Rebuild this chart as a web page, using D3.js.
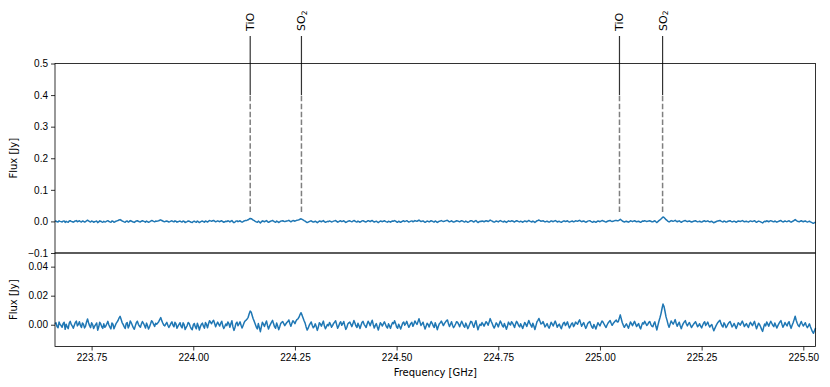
<!DOCTYPE html>
<html lang="en">
<head>
<meta charset="UTF-8">
<title>Spectrum</title>
<script src="https://d3js.org/d3.v7.min.js"></script>
<style>
  body { margin: 0; background: #fff; }
  svg { display: block; font-family: "DejaVu Sans", sans-serif; }
  .tick text { font-size: 10px; fill: #000; }
  .tick line { stroke: #000; stroke-width: 0.8; }
  .domain { display: none; }
</style>
</head>
<body>
<svg id="canvas"></svg>
<script>
// channel grid of the spectrum (GHz)
const freqStart = 223.66
const freqStep = 0.0025

// flux per channel (mJy)
const fluxMJy = [
  0.5, 1.3, -1.2, -2.1, 1.8, 0.2, -0.6, -1.8, 0.9, 1.6, -3.2, 0.4, -1.5, -2.7, 1.1, 2.3, 0.2, -0.9, -2.4, -0.3, 1.6, 2.5, -0.8, 0.3, 2.1, -0.5, -1.9, 1.2, 0.4, -2.2, -1.1, 1.9, 3.9, 1.4, -0.7, -2.0, 1.3, 0.1, -2.6, -1.0, 0.1, 1.2, -3.8, -1.6, 1.7, 0.5, -1.4, -2.5, 0.6, -1.8,
  -0.9, 0.7, 2.3, -0.2, -1.6, -2.9, 1.2, 0.3, -2.8, -1.1, 0.7, 1.8, 2.9, 4.6, 5.8, 3.7, 1.5, 0.2, -1.3, -2.6, 0.8, 1.5, -2.2, -0.6, 2.6, 1.3, -0.4, -2.0, -3.1, -0.8, 1.4, 2.4, 0.3, -0.9, -1.7, 0.6, 2.2, 1.0, -0.5, -2.3, 1.1, -0.7, -2.9, -1.4, 0.6, 2.8, 1.9, 0.2, -1.2, 1.0,
  0.4, 1.2, 2.1, 3.6, 4.9, 2.8, 1.2, -0.3, -0.8, 0.6, 1.6, -0.4, -1.9, -0.7, 0.9, 2.0, -0.3, -1.4, 1.7, 0.5, -2.4, -1.0, 0.2, 1.4, -1.1, -2.2, 1.3, 0.1, -3.3, -1.8, -0.6, 1.5, 0.8, -1.2, -2.7, -3.4, -0.2, 0.9, -1.5, -2.8, 1.0, -0.9, -3.6, -1.3, 0.3, 1.1, -1.0, -2.4, 1.5, 0.2,
  -2.1, 0.6, 2.8, 1.7, 0.7, 2.2, 3.1, 0.9, -1.4, 0.3, 1.8, 0.4, -0.9, 1.1, 2.4, -0.8, -2.6, -1.2, 0.5, -0.6, 1.9, 0.8, -1.8, 0.7, 2.7, -1.5, -3.9, -1.9, 0.9, 1.8, -0.7, 0.6, 2.0, -0.4, -2.3, -0.5, 1.4, 2.6, 3.2, 4.0, 5.1, 7.6, 9.4, 8.6, 6.2, 3.9, 2.3, 0.3, -1.6, -2.9,
  0.8, -2.0, -4.8, -1.3, 1.7, 0.4, -1.2, 0.9, 2.6, -0.5, -2.9, -1.0, 0.4, 1.8, 3.0, 0.6, -1.5, -2.4, 1.2, -0.8, -3.4, -1.5, 0.9, 1.6, 2.2, 0.7, -0.6, 0.5, 1.5, 2.2, 3.3, 0.8, -1.1, 1.0, 2.8, 1.9, 0.7, 2.5, 3.6, 4.1, 5.2, 7.0, 8.3, 6.6, 4.6, 2.7, 1.1, -1.5, -3.7, -2.4,
  -0.5, 0.8, 1.9, -0.3, -2.1, -1.2, 0.6, -1.4, -3.9, -1.7, 1.4, 0.5, -1.0, 0.8, 2.5, -0.9, -2.8, -1.3, 0.2, -0.7, 1.6, 0.3, -1.7, -0.6, 0.9, 1.8, 2.7, 0.1, -2.4, -1.0, 1.1, 2.0, -0.4, 0.7, 2.2, -0.6, -3.2, -1.9, 0.5, 1.3, 1.8, 0.2, -1.3, 0.6, 2.9, 1.2, -0.8, -1.9, 1.0, -0.7,
  -2.6, -0.4, 1.7, 2.3, 0.3, -0.8, -1.9, 0.5, 2.4, 1.1, -0.7, 1.4, 3.1, 0.2, -2.2, -0.6, 0.8, -1.5, -3.6, -1.1, 1.3, 0.4, -0.9, 0.7, 2.0, 0.3, -1.4, -2.3, 0.6, -0.8, -2.5, -0.2, 1.5, 0.7, 2.8, 0.9, -1.6, -2.4, 0.4, -1.2, -3.0, -0.9, 1.2, 1.9, -0.3, 0.8, 2.3, 0.1, -1.8, -0.5,
  0.9, 1.6, -1.1, 0.4, 2.6, 1.3, 0.2, 2.1, 4.1, 1.8, -0.5, 0.6, 1.7, -0.8, -2.9, -1.0, 1.0, 0.2, -1.6, 0.5, 2.2, 1.0, -0.8, -1.9, 1.4, -0.7, -3.4, -1.3, 0.7, 1.4, 2.5, 0.9, -0.6, 0.8, 1.8, 2.7, 3.3, 0.6, -1.2, 0.3, 2.0, -0.4, -2.0, -0.9, 0.5, 2.1, 1.6, 0.3, -1.4, 0.6,
  2.4, 0.8, -0.9, -1.7, 1.1, -0.5, -2.7, -1.3, 0.6, 2.3, 1.9, -0.2, -1.8, 0.9, 2.8, -0.6, -3.5, -1.2, 0.3, -0.5, 1.5, 0.4, -1.0, 0.6, 2.1, 1.2, -0.4, 1.8, 4.2, 2.4, 0.8, -1.0, -2.3, -0.6, 1.3, 0.2, -1.5, 0.7, 2.6, 1.1, -0.7, -1.6, 0.9, -1.0, -3.1, -0.9, 1.8, 0.5, -0.2, 2.0,
  1.2, -0.3, -1.9, 0.6, 2.3, 1.2, -0.6, -1.5, 0.7, -0.9, -2.6, -0.5, 1.6, 0.4, -1.2, 0.8, 2.9, 1.1, -0.3, -1.7, 1.0, -0.9, -3.3, -0.8, 1.9, 3.0, 4.3, 2.4, 0.5, 1.0, 2.2, 0.4, -1.5, -0.4, 0.8, -1.1, -2.4, -0.6, 1.7, 0.5, -0.9, 0.9, 2.5, 0.6, -1.7, -0.4, 0.4, -1.3, -2.8, -0.6,
  1.1, 1.7, -0.6, 0.5, 2.0, -0.4, -2.2, -0.8, 0.7, 1.2, -1.3, -0.2, 1.8, 1.0, 0.3, 2.2, 3.4, 1.1, -1.0, 0.4, 1.5, -0.6, -2.5, -1.1, 0.9, 1.7, 2.2, 0.1, -1.6, -2.4, 0.2, -1.2, -3.0, -0.7, 1.4, 0.3, -0.8, 1.0, 2.6, 1.8, 0.5, -0.8, -1.9, -0.2, 1.2, 2.1, 2.9, 1.0, -0.4, 0.8,
  1.7, 2.6, 3.2, 1.9, 2.1, 4.4, 6.8, 3.9, 1.4, -0.4, -1.8, -0.5, 0.6, -0.9, -2.4, -0.3, 1.9, 0.8, -0.7, 0.9, 2.3, 0.6, -1.2, -0.2, 0.8, -1.5, -2.9, -0.6, 1.3, 0.5, 2.4, 1.0, -0.5, 0.2, 1.6, 2.2, 0.3, -0.9, -1.4, 0.7, 2.0, -1.1, -3.6, -0.5, 2.4, 4.8, 7.5, 11.0, 14.2, 12.6,
  9.1, 5.4, 3.0, 0.2, -1.8, 0.4, 2.6, 1.5, 0.4, 1.9, 3.5, 0.8, -1.1, 0.6, 1.7, -0.9, -2.7, -0.6, 0.9, 2.0, 2.8, 0.5, -0.8, 0.7, 1.5, -0.3, -1.9, -0.8, 0.3, 1.2, 2.1, 0.4, -1.4, -0.6, 0.7, -1.0, -2.2, -0.4, 1.2, 2.0, -0.5, 0.6, 1.8, -0.2, -1.6, -0.5, 0.2, -2.3, -4.2, -2.5,
  -1.0, 0.4, 1.6, 2.4, 3.1, 0.9, -0.7, -1.6, 1.3, 0.2, -2.0, -0.9, 0.6, 1.5, 2.2, 0.3, -1.5, -0.4, 0.9, -0.8, -2.6, -0.7, 1.4, 0.6, -0.3, 1.1, 2.5, 0.8, -1.2, -0.2, 0.8, -0.6, -1.9, 0.2, 1.7, 0.5, -0.6, 0.9, 2.3, -0.4, -2.8, -0.9, 1.0, 0.1, -1.4, -3.2, -4.6, -1.8, 0.5, -0.8,
  1.9, 0.6, -1.1, 0.8, 2.4, 1.0, -0.4, -1.3, 1.2, -0.5, -2.3, -0.6, 0.7, 1.9, 2.8, 0.4, -1.7, -0.3, 1.5, 0.2, -0.8, 1.0, 2.1, -0.6, -2.5, -0.4, 1.3, 3.5, 5.8, 3.1, 1.0, -0.5, -1.3, 0.7, 2.2, 0.5, -0.9, 0.3, 1.4, -0.7, -2.0, -0.8, 0.6, -1.4, -3.1, -4.8, -5.9, -4.1, -2.2
]

// identified lines
const lineFreqs = [224.140, 224.266, 225.048, 225.154]
const lineMols = ["TiO", "SO", "TiO", "SO"]
const lineSubs = ["", "2", "", "2"]

// tick values
const xTicks = [223.75, 224.00, 224.25, 224.50, 224.75, 225.00, 225.25, 225.50]
const topTicks = [-0.1, 0.0, 0.1, 0.2, 0.3, 0.4, 0.5]
const bottomTicks = [0.00, 0.02, 0.04]

let width = 830
let height = 387
let left = 55
let right = 815.5
let topY0 = 63.5
let split = 253
let bottomY1 = 346.5

let svg = d3.select("#canvas").attr("width", width).attr("height", height)

let spectrum = fluxMJy.map((v, i) => ({ f: freqStart + i * freqStep, flux: v / 1000 }))

let xScale = d3.scaleLinear()
  .domain([d3.min(spectrum, d => d.f), d3.max(spectrum, d => d.f)])
  .range([left, right])

let yTop = d3.scaleLinear().domain([-0.1, 0.5]).range([split, topY0])
let yBottom = d3.scaleLinear().domain([-0.015, 0.0494]).range([bottomY1, split])

// spectrum in both panels
let drawSpectrum = (yScale) => {
  let line = d3.line().x(d => xScale(d.f)).y(d => yScale(d.flux))
  svg.append("path")
    .datum(spectrum)
    .attr("d", line)
    .attr("fill", "none")
    .attr("stroke", "#1f77b4")
    .attr("stroke-width", 1.5)
    .attr("stroke-linejoin", "round")
}
drawSpectrum(yTop)
drawSpectrum(yBottom)

// line markers: dashed inside the panel, solid up to the label
let markers = svg.append("g")
lineFreqs.forEach((f, i) => {
  let x = xScale(f)
  markers.append("line")
    .attr("x1", x).attr("x2", x)
    .attr("y1", yTop(0.03)).attr("y2", yTop(0.4))
    .attr("stroke", "#7f7f7f")
    .attr("stroke-width", 1.5)
    .attr("stroke-dasharray", "5.5,2.4")
  markers.append("line")
    .attr("x1", x).attr("x2", x)
    .attr("y1", yTop(0.4)).attr("y2", 36)
    .attr("stroke", "#333")
    .attr("stroke-width", 1.2)
  let t = markers.append("text")
    .attr("transform", "translate(" + x + ",31) rotate(-90)")
    .attr("dy", "0.36em")
    .attr("font-size", 11)
    .text(lineMols[i])
  if (lineSubs[i]) {
    t.append("tspan")
      .attr("font-size", 7.5)
      .attr("dy", "0.25em")
      .text(lineSubs[i])
  }
})

// frames
let frame = svg.append("g").attr("fill", "none").attr("stroke", "#000").attr("stroke-width", 0.8)
frame.append("rect").attr("x", left).attr("y", topY0).attr("width", right - left).attr("height", split - topY0)
frame.append("rect").attr("x", left).attr("y", split).attr("width", right - left).attr("height", bottomY1 - split)

// axes
svg.append("g")
  .attr("transform", "translate(" + left + ",0)")
  .call(d3.axisLeft(yTop).tickValues(topTicks).tickFormat(d3.format(".1f")).tickSize(4).tickPadding(3))

svg.append("g")
  .attr("transform", "translate(" + left + ",0)")
  .call(d3.axisLeft(yBottom).tickValues(bottomTicks).tickFormat(d3.format(".2f")).tickSize(4).tickPadding(3))

svg.append("g")
  .attr("transform", "translate(0," + bottomY1 + ")")
  .call(d3.axisBottom(xScale).tickValues(xTicks).tickFormat(d3.format(".2f")).tickSize(4).tickPadding(3))

// axis labels
svg.append("text")
  .attr("transform", "translate(17," + (topY0 + split) / 2 + ") rotate(-90)")
  .attr("text-anchor", "middle")
  .attr("font-size", 10)
  .text("Flux [Jy]")

svg.append("text")
  .attr("transform", "translate(17," + (split + bottomY1) / 2 + ") rotate(-90)")
  .attr("text-anchor", "middle")
  .attr("font-size", 10)
  .text("Flux [Jy]")

svg.append("text")
  .attr("x", (left + right) / 2)
  .attr("y", 376)
  .attr("text-anchor", "middle")
  .attr("font-size", 10)
  .text("Frequency [GHz]")
</script>
</body>
</html>
